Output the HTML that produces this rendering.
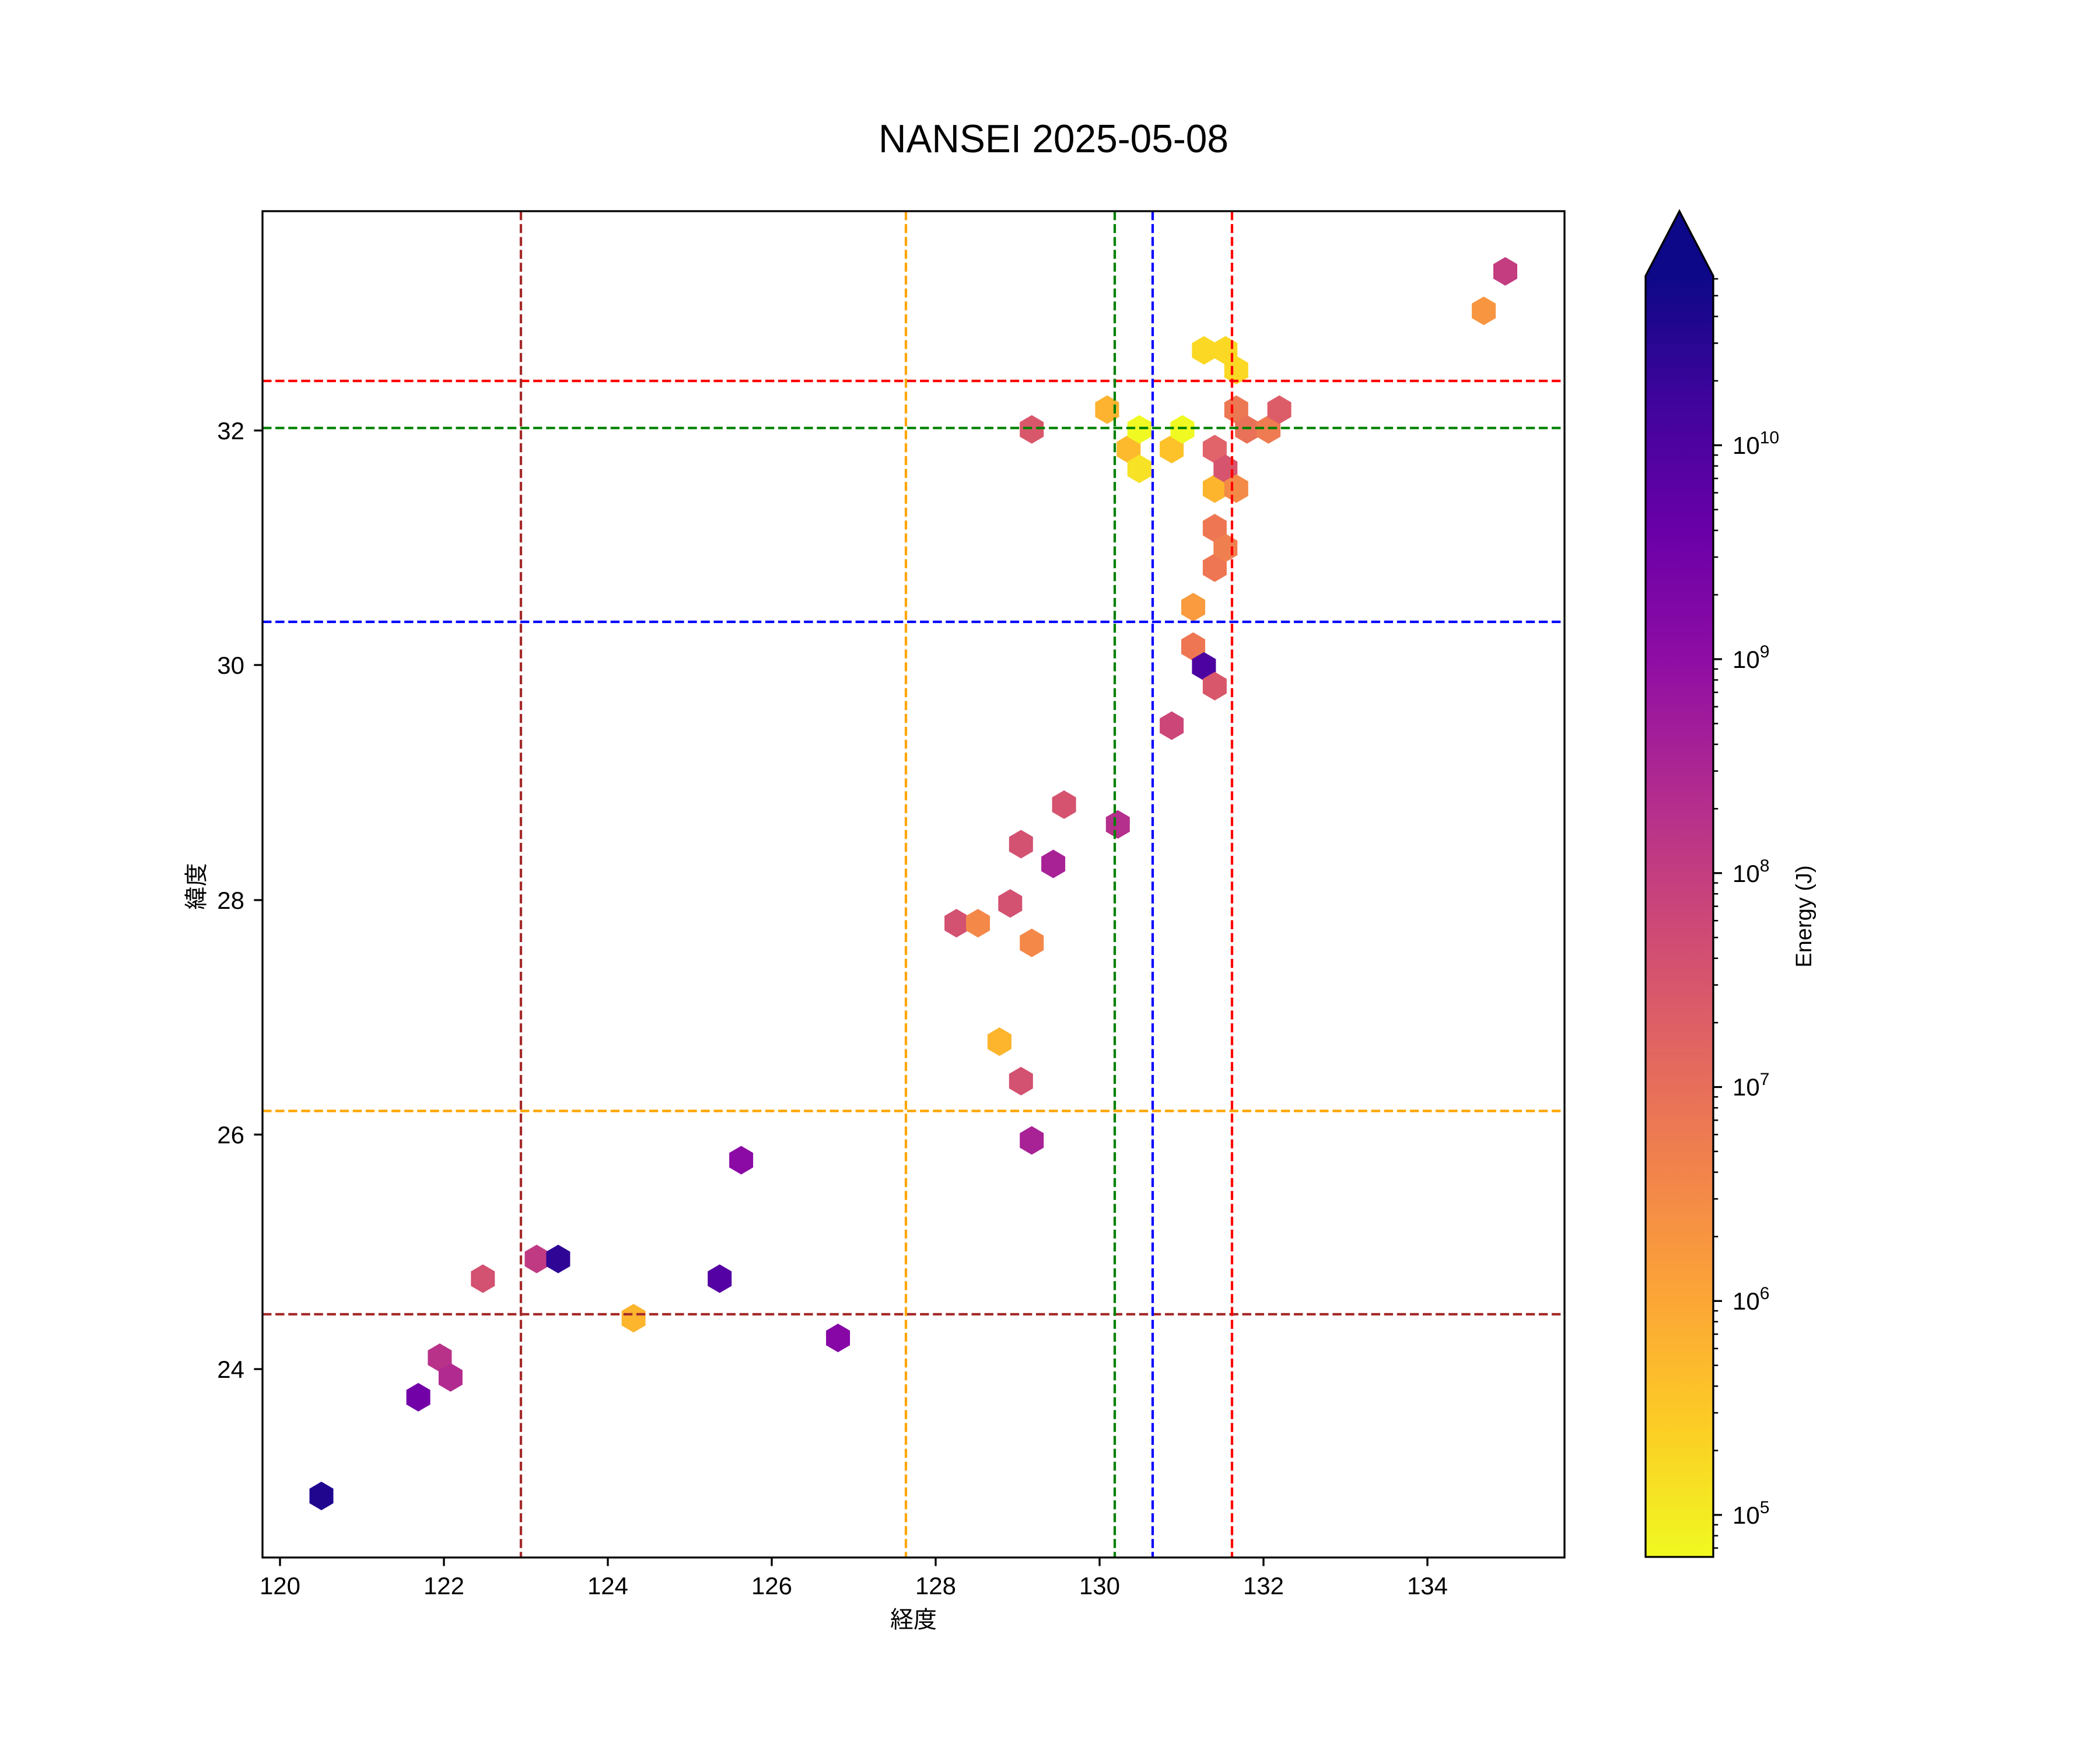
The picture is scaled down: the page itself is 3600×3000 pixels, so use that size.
<!DOCTYPE html>
<html><head><meta charset="utf-8"><style>
html,body{margin:0;padding:0;background:#fff;}
svg{display:block;}
text{font-family:"Liberation Sans","Noto Sans CJK JP",sans-serif;fill:#000;}
</style></head><body>
<svg width="3600" height="3000" viewBox="0 0 3600 3000" xmlns="http://www.w3.org/2000/svg">
<defs>
<polygon id="h" points="0,-24.5 20.5,-12.5 20.5,12.5 0,24.5 -20.5,12.5 -20.5,-12.5"/>
<linearGradient id="pl" x1="0" y1="0" x2="0" y2="1">
<stop offset="0" stop-color="#0d0887"/><stop offset="0.1" stop-color="#41049d"/>
<stop offset="0.2" stop-color="#6a00a8"/><stop offset="0.3" stop-color="#8f0da4"/>
<stop offset="0.4" stop-color="#b12a90"/><stop offset="0.5" stop-color="#cc4778"/>
<stop offset="0.6" stop-color="#e16462"/><stop offset="0.7" stop-color="#f2844b"/>
<stop offset="0.8" stop-color="#fca636"/><stop offset="0.9" stop-color="#fcce25"/>
<stop offset="1" stop-color="#f0f921"/>
</linearGradient>
</defs>
<rect width="3600" height="3000" fill="#fff"/>
<text x="1806" y="261" font-size="68" text-anchor="middle" textLength="600" lengthAdjust="spacingAndGlyphs">NANSEI 2025-05-08</text>

<!-- hexes -->
<g>
<use href="#h" x="551" y="2564.5" fill="#20068f"/>
<use href="#h" x="717.1" y="2395.2" fill="#7201a8"/>
<use href="#h" x="753.9" y="2327.5" fill="#b83289"/>
<use href="#h" x="772.4" y="2361.3" fill="#b12a90"/>
<use href="#h" x="827.8" y="2192.0" fill="#d35171"/>
<use href="#h" x="920" y="2158.2" fill="#c03a83"/>
<use href="#h" x="956.9" y="2158.2" fill="#2f0596"/>
<use href="#h" x="1086.1" y="2259.8" fill="#fdb52e"/>
<use href="#h" x="1233.7" y="2192.0" fill="#5402a3"/>
<use href="#h" x="1270.6" y="1988.9" fill="#8b0aa5"/>
<use href="#h" x="1436.6" y="2293.6" fill="#8606a6"/>
<use href="#h" x="1639.6" y="1582.6" fill="#d35171"/>
<use href="#h" x="1676.5" y="1582.6" fill="#f48849"/>
<use href="#h" x="1713.4" y="1785.7" fill="#fdb52e"/>
<use href="#h" x="1731.8" y="1548.7" fill="#d35171"/>
<use href="#h" x="1750.3" y="1853.4" fill="#d35171"/>
<use href="#h" x="1750.3" y="1447.1" fill="#d35171"/>
<use href="#h" x="1768.7" y="1955.0" fill="#a82296"/>
<use href="#h" x="1768.7" y="1616.4" fill="#f48849"/>
<use href="#h" x="1768.7" y="736.1" fill="#d8576b"/>
<use href="#h" x="1805.6" y="1481.0" fill="#a82296"/>
<use href="#h" x="1824.1" y="1379.4" fill="#d5536f"/>
<use href="#h" x="1897.9" y="702.2" fill="#fdb32f"/>
<use href="#h" x="1916.3" y="1413.3" fill="#b52f8c"/>
<use href="#h" x="1934.8" y="769.9" fill="#fdba2c"/>
<use href="#h" x="1953.2" y="736.1" fill="#f0f921"/>
<use href="#h" x="1953.2" y="803.8" fill="#f7e225"/>
<use href="#h" x="2008.6" y="1244.0" fill="#cc4778"/>
<use href="#h" x="2008.6" y="769.9" fill="#fdc229"/>
<use href="#h" x="2027" y="736.1" fill="#f0f921"/>
<use href="#h" x="2045.5" y="1040.8" fill="#f99b3e"/>
<use href="#h" x="2045.5" y="1108.5" fill="#ee7652"/>
<use href="#h" x="2063.9" y="1142.4" fill="#4c02a1"/>
<use href="#h" x="2063.9" y="600.6" fill="#fad824"/>
<use href="#h" x="2082.4" y="1176.2" fill="#d8576b"/>
<use href="#h" x="2082.4" y="973.1" fill="#ee7652"/>
<use href="#h" x="2082.4" y="905.4" fill="#ee7652"/>
<use href="#h" x="2082.4" y="837.6" fill="#fdb52e"/>
<use href="#h" x="2082.4" y="769.9" fill="#e0646a"/>
<use href="#h" x="2100.8" y="939.2" fill="#f07f4f"/>
<use href="#h" x="2100.8" y="803.8" fill="#d6546e"/>
<use href="#h" x="2100.8" y="600.6" fill="#fad824"/>
<use href="#h" x="2119.3" y="837.6" fill="#f48a47"/>
<use href="#h" x="2119.3" y="702.2" fill="#ec7853"/>
<use href="#h" x="2119.3" y="634.5" fill="#fad824"/>
<use href="#h" x="2137.7" y="736.1" fill="#e97158"/>
<use href="#h" x="2174.6" y="736.1" fill="#ee7b51"/>
<use href="#h" x="2193.1" y="702.2" fill="#dc5c68"/>
<use href="#h" x="2543.6" y="532.9" fill="#f89540"/>
<use href="#h" x="2580.5" y="465.2" fill="#c33d80"/>
</g>

<!-- dashed lines -->
<g stroke-width="4.2" stroke-dasharray="15.4 6.7" fill="none">
<line x1="450" y1="653" x2="2682" y2="653" stroke="#ff0000"/>
<line x1="450" y1="733.7" x2="2682" y2="733.7" stroke="#008000"/>
<line x1="450" y1="1066" x2="2682" y2="1066" stroke="#0000ff"/>
<line x1="450" y1="1904.5" x2="2682" y2="1904.5" stroke="#ffa500"/>
<line x1="450" y1="2253" x2="2682" y2="2253" stroke="#a52a2a"/>
<line x1="893" y1="362" x2="893" y2="2670" stroke="#a52a2a"/>
<line x1="1553" y1="362" x2="1553" y2="2670" stroke="#ffa500"/>
<line x1="1911" y1="362" x2="1911" y2="2670" stroke="#008000"/>
<line x1="1976" y1="362" x2="1976" y2="2670" stroke="#0000ff"/>
<line x1="2112" y1="362" x2="2112" y2="2670" stroke="#ff0000"/>
</g>

<!-- axes -->
<rect x="450" y="362" width="2232" height="2308" fill="none" stroke="#000" stroke-width="3.3"/>
<g stroke="#000" stroke-width="3.3">
<path d="M480 2670v14.6M761 2670v14.6M1042 2670v14.6M1323 2670v14.6M1604 2670v14.6M1885 2670v14.6M2166 2670v14.6M2447 2670v14.6"/>
<path d="M450 738h-14.6M450 1140h-14.6M450 1543h-14.6M450 1945h-14.6M450 2347h-14.6"/>
</g>
<g font-size="42" text-anchor="middle">
<text x="480" y="2733">120</text><text x="761" y="2733">122</text><text x="1042" y="2733">124</text>
<text x="1323" y="2733">126</text><text x="1604" y="2733">128</text><text x="1885" y="2733">130</text>
<text x="2166" y="2733">132</text><text x="2447" y="2733">134</text>
</g>
<g font-size="42" text-anchor="end">
<text x="419" y="753">32</text><text x="419" y="1155">30</text><text x="419" y="1558">28</text>
<text x="419" y="1960">26</text><text x="419" y="2362">24</text>
</g>
<text x="1566" y="2790" font-size="40" text-anchor="middle">経度</text>
<text transform="translate(350 1519.5) rotate(-90)" font-size="40" text-anchor="middle">緯度</text>

<!-- colorbar -->
<rect x="2821" y="473" width="116" height="2196" fill="url(#pl)"/>
<polygon points="2821,473 2879,362 2937,473" fill="#0d0887"/>
<polygon points="2821,473 2879,362 2937,473 2937,2669 2821,2669" fill="none" stroke="#000" stroke-width="3.3"/>
<g stroke="#000" stroke-width="3.3">
<path d="M2937 2597h15M2937 2230.25h15M2937 1863.5h15M2937 1496.75h15M2937 1130h15M2937 763.25h15"/>
</g>
<g stroke="#000" stroke-width="2.5">
<path d="M2937 2653.8h8.3M2937 2632.6h8.3M2937 2613.9h8.3
M2937 2486.6h8.3M2937 2422h8.3M2937 2376.2h8.3M2937 2340.6h8.3M2937 2311.7h8.3M2937 2287.1h8.3M2937 2265.8h8.3M2937 2247.1h8.3
M2937 2119.9h8.3M2937 2055.3h8.3M2937 2009.5h8.3M2937 1973.9h8.3M2937 1945h8.3M2937 1920.4h8.3M2937 1899.1h8.3M2937 1880.4h8.3
M2937 1753.1h8.3M2937 1688.5h8.3M2937 1642.7h8.3M2937 1607.1h8.3M2937 1578.2h8.3M2937 1553.6h8.3M2937 1532.3h8.3M2937 1513.6h8.3
M2937 1386.4h8.3M2937 1321.8h8.3M2937 1276h8.3M2937 1240.4h8.3M2937 1211.5h8.3M2937 1186.9h8.3M2937 1165.6h8.3M2937 1146.9h8.3
M2937 1019.6h8.3M2937 955h8.3M2937 909.2h8.3M2937 873.6h8.3M2937 844.7h8.3M2937 820.1h8.3M2937 798.8h8.3M2937 780.1h8.3
M2937 652.9h8.3M2937 588.3h8.3M2937 542.5h8.3M2937 506.9h8.3M2937 478h8.3"/>
</g>
<g font-size="42">
<text x="2970" y="2612">10<tspan font-size="30" dy="-18">5</tspan></text>
<text x="2970" y="2245">10<tspan font-size="30" dy="-18">6</tspan></text>
<text x="2970" y="1878">10<tspan font-size="30" dy="-18">7</tspan></text>
<text x="2970" y="1512">10<tspan font-size="30" dy="-18">8</tspan></text>
<text x="2970" y="1145">10<tspan font-size="30" dy="-18">9</tspan></text>
<text x="2970" y="778">10<tspan font-size="30" dy="-18">10</tspan></text>
</g>
<text transform="translate(3105 1571) rotate(-90)" font-size="38" text-anchor="middle">Energy (J)</text>
</svg>
</body></html>
